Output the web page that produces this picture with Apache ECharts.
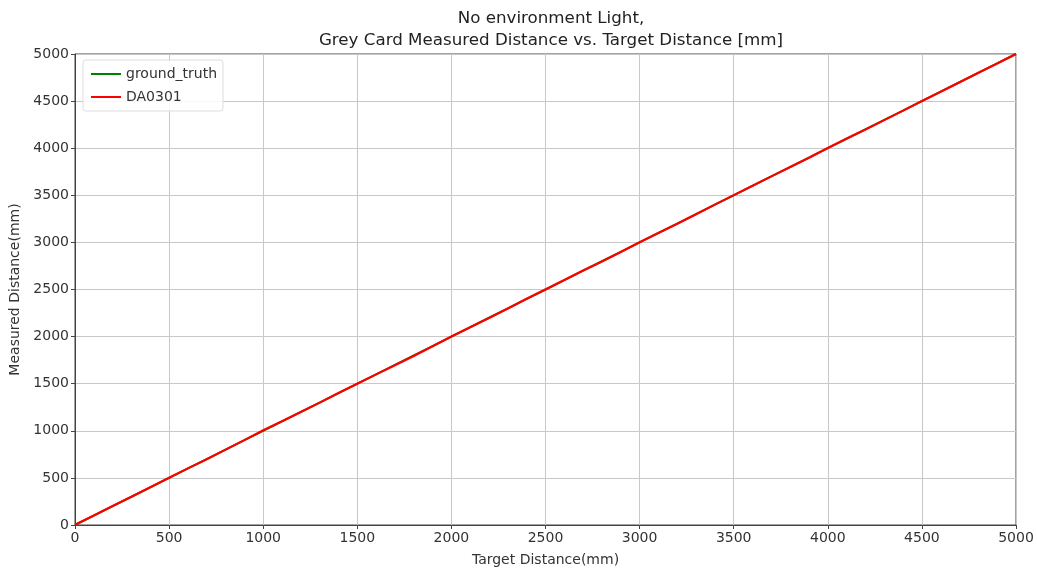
<!DOCTYPE html>
<html>
<head>
<meta charset="utf-8">
<script src="https://cdn.jsdelivr.net/npm/echarts@6/dist/echarts.min.js"></script>
<style>
  html, body { margin: 0; padding: 0; background: #fff; }
  #chart { width: 1037px; height: 574px; }
</style>
</head>
<body>
<div id="chart"></div>
<script>
// target distances (mm)
const targetDistance = [
  0, 100, 200, 300, 400, 500, 600, 700, 800, 900,
  1000, 1100, 1200, 1300, 1400, 1500, 1600, 1700, 1800, 1900,
  2000, 2100, 2200, 2300, 2400, 2500, 2600, 2700, 2800, 2900,
  3000, 3100, 3200, 3300, 3400, 3500, 3600, 3700, 3800, 3900,
  4000, 4100, 4200, 4300, 4400, 4500, 4600, 4700, 4800, 4900, 5000
];
// ground truth = target
const groundTruth = [
  0, 100, 200, 300, 400, 500, 600, 700, 800, 900,
  1000, 1100, 1200, 1300, 1400, 1500, 1600, 1700, 1800, 1900,
  2000, 2100, 2200, 2300, 2400, 2500, 2600, 2700, 2800, 2900,
  3000, 3100, 3200, 3300, 3400, 3500, 3600, 3700, 3800, 3900,
  4000, 4100, 4200, 4300, 4400, 4500, 4600, 4700, 4800, 4900, 5000
];
// DA0301 measured distance
const da0301 = [
  3, 102, 201, 299, 401, 502, 601, 699, 800, 901,
  1005, 1101, 1199, 1299, 1401, 1500, 1599, 1696, 1794, 1898,
  2001, 2099, 2198, 2298, 2401, 2501, 2601, 2702, 2798, 2899,
  3002, 3099, 3198, 3298, 3401, 3502, 3601, 3701, 3800, 3899,
  4002, 4102, 4199, 4298, 4399, 4501, 4600, 4699, 4801, 4899, 5001
];
const axisTicks = [0, 500, 1000, 1500, 2000, 2500, 3000, 3500, 4000, 4500, 5000];

const chart = echarts.init(document.getElementById('chart'));
const font = 'DejaVu Sans';

function pairs(xs, ys) {
  return xs.map((x, i) => [x, ys[i]]);
}

const axisCommon = {
  type: 'value',
  min: axisTicks[0],
  max: axisTicks[axisTicks.length - 1],
  interval: 500,
  nameLocation: 'middle',
  nameTextStyle: { color: '#333', fontFamily: font, fontSize: 14 },
  axisLine: { show: true, lineStyle: { color: '#444', width: 1 } },
  axisTick: { show: true, length: 4, lineStyle: { color: '#444' } },
  axisLabel: {
    color: '#333', fontFamily: font, fontSize: 14, margin: 6,
    formatter: v => String(v)
  },
  splitLine: { show: true, lineStyle: { color: '#c8c8c8', width: 1 } }
};

chart.setOption({
  animation: false,
  title: {
    text: 'No environment Light,\nGrey Card Measured Distance vs. Target Distance [mm]',
    left: 546,
    textAlign: 'center',
    top: 3,
    textStyle: {
      color: '#222',
      fontFamily: font,
      fontSize: 16.7,
      fontWeight: 'normal',
      lineHeight: 22
    }
  },
  grid: {
    left: 75,
    right: 21,
    top: 54,
    bottom: 49,
    show: true,
    borderColor: '#444',
    borderWidth: 1,
    backgroundColor: 'transparent'
  },
  legend: {
    left: 83,
    top: 60,
    orient: 'vertical',
    itemWidth: 30,
    itemHeight: 2,
    itemGap: 9,
    padding: [7, 6, 7, 8],
    borderColor: '#ddd',
    borderWidth: 1,
    borderRadius: 3,
    backgroundColor: 'rgba(255,255,255,0.85)',
    textStyle: { color: '#333', fontFamily: font, fontSize: 14 },
    data: [
      { name: 'ground_truth', icon: 'rect' },
      { name: 'DA0301', icon: 'rect' }
    ]
  },
  xAxis: Object.assign({}, axisCommon, {
    name: 'Target Distance(mm)',
    nameGap: 28
  }),
  yAxis: Object.assign({}, axisCommon, {
    name: 'Measured Distance(mm)',
    nameGap: 52
  }),
  series: [
    {
      name: 'ground_truth',
      type: 'line',
      data: pairs(targetDistance, groundTruth),
      showSymbol: false,
      lineStyle: { color: '#008000', width: 2 },
      itemStyle: { color: '#008000' }
    },
    {
      name: 'DA0301',
      type: 'line',
      data: pairs(targetDistance, da0301),
      showSymbol: false,
      lineStyle: { color: '#ff0000', width: 2.2 },
      itemStyle: { color: '#ff0000' }
    }
  ]
});
</script>
</body>
</html>
